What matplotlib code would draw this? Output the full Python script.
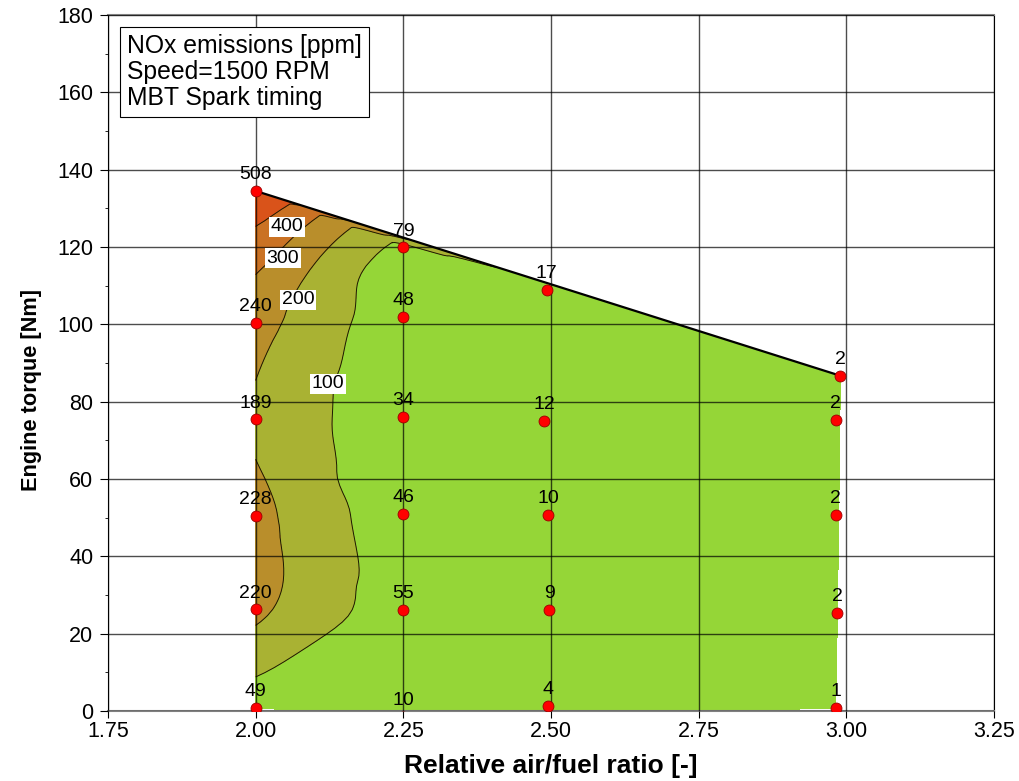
"""NOx emissions map over relative air/fuel ratio and engine torque."""

import matplotlib
matplotlib.use("Agg")
import matplotlib.pyplot as plt
import matplotlib.tri as mtri
import numpy as np
from matplotlib.ticker import MultipleLocator

plt.rcParams["font.family"] = ["Liberation Sans", "DejaVu Sans"]

# Measured operating points (lambda, torque) and NOx in ppm
lam = [2.00, 2.00, 2.00, 2.00, 2.00, 2.00,
       2.25, 2.25, 2.25, 2.25, 2.25, 2.25,
       2.493, 2.488, 2.495, 2.497, 2.495,
       2.99, 2.982, 2.982, 2.985, 2.982]
torque = [134.5, 100.4, 75.4, 50.4, 26.3, 0.8,
          119.9, 102.0, 76.1, 50.9, 26.1, -1.5,
          108.9, 75.1, 50.7, 26.1, 1.3,
          86.7, 75.3, 50.7, 25.3, 0.7]
nox = [508, 240, 189, 228, 220, 49,
       79, 48, 34, 46, 55, 10,
       17, 12, 10, 9, 4,
       2, 2, 2, 2, 1]

levels = [-1000, 100, 200, 300, 400, 1000]
fill_colors = ["#95d637", "#a9b233", "#b98e2b", "#ca7224", "#d9531a"]
line_levels = [100, 200, 300, 400]
# where the contour values are written
label_pos = [(2.122, 84.6), (2.072, 106.3), (2.046, 117.1), (2.053, 125.2)]

xticks = [1.75, 2.00, 2.25, 2.50, 2.75, 3.00, 3.25]

fig = plt.figure(figsize=(10.2, 7.81), dpi=100)
ax = fig.add_axes([108 / 1020, 1 - 711 / 781, 886 / 1020, 696 / 781])

# interpolate in a space where both axes have the same screen scale
xs = 152.8
lam_s = np.array(lam) * xs
tri = mtri.Triangulation(lam_s, torque)
interp = mtri.CubicTriInterpolator(tri, nox, kind="geom")
refiner = mtri.UniformTriRefiner(tri)
tri_r, nox_f = refiner.refine_field(nox, triinterpolator=interp, subdiv=4)
tri_f = mtri.Triangulation(tri_r.x / xs, tri_r.y, tri_r.triangles)

ax.tricontourf(tri_f, nox_f, levels=levels, colors=fill_colors, zorder=1)
ax.tricontour(tri_f, nox_f, levels=line_levels, colors="#1a1a00",
              linewidths=0.7, zorder=2)

for lev, (lx, ly) in zip(line_levels, label_pos):
    ax.text(lx, ly, str(lev), fontsize=14, ha="center", va="center", zorder=5,
            bbox=dict(facecolor="white", edgecolor="none", pad=1.2))

# upper boundary of the measured region
ax.plot([lam[0], lam[17]], [torque[0], torque[17]], color="black", lw=1.6,
        zorder=4)

ax.grid(True, color="black", alpha=0.7, lw=1)
ax.set_axisbelow(False)
for gl in ax.get_xgridlines() + ax.get_ygridlines():
    gl.set_zorder(3)

ax.scatter(lam, torque, s=62, color="#ff0000", edgecolors="#990000",
           linewidths=0.6, zorder=6)
for x, y, v in zip(lam, torque, nox):
    ax.annotate(str(v), (x, y), xytext=(0, 8.5), textcoords="offset points",
                ha="center", va="baseline", fontsize=14, zorder=7,
                annotation_clip=False)

ax.text(0.0214, 0.9727, "NOx emissions [ppm]\nSpeed=1500 RPM\nMBT Spark timing",
        transform=ax.transAxes, ha="left", va="top", fontsize=17.8,
        linespacing=1.1, zorder=8,
        bbox=dict(facecolor="white", edgecolor="black", lw=0.8,
                  boxstyle="square,pad=0.3"))

ax.set_xlim(1.75, 3.25)
ax.set_ylim(0, 180)
ax.set_xticks(xticks)
ax.set_xticklabels([f"{t:.2f}" for t in xticks])
ax.yaxis.set_major_locator(MultipleLocator(20))
ax.yaxis.set_minor_locator(MultipleLocator(10))
ax.tick_params(axis="x", which="major", direction="out", length=5, pad=2,
               labelsize=15.5)
ax.tick_params(axis="y", which="major", direction="out", length=5.7, pad=5,
               labelsize=15.5)
ax.tick_params(axis="y", which="minor", direction="out", length=2.2)

for side in ["left", "right"]:
    ax.spines[side].set_color("black")
for side in ["top", "bottom"]:
    ax.spines[side].set_color("#808080")
    ax.spines[side].set_linewidth(1.5)

ax.set_xlabel("Relative air/fuel ratio [-]", fontsize=19, fontweight="bold",
              labelpad=9)
ax.set_ylabel("Engine torque [Nm]", fontsize=15.7, fontweight="bold")
ax.yaxis.set_label_coords(-0.074, 0.461)

fig.savefig("out.png", dpi=100)
